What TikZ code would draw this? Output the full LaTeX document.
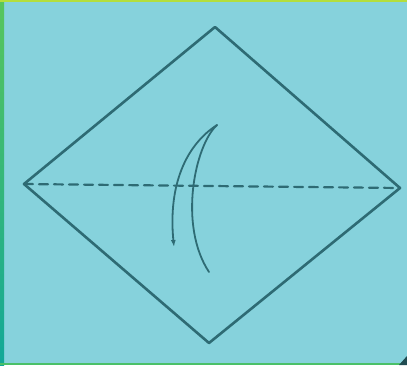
\documentclass[tikz,border=0pt]{standalone}
\usetikzlibrary{arrows.meta}
\definecolor{papel}{HTML}{86D2DC}
\definecolor{tinta}{HTML}{2E6B74}
\definecolor{verde}{HTML}{58C65C}
\definecolor{teal}{HTML}{12A898}
\definecolor{lima}{HTML}{B4DE3C}
\begin{document}
\begin{tikzpicture}[x=1pt,y=-1pt,
          >={Latex[length=7pt,width=5pt]},line cap=round,line join=round,
          borde/.style={tinta,line width=2.6pt},
          pliegue/.style={tinta,line width=2.2pt,dash pattern=on 9pt off 6pt},
          flecha/.style={tinta,line width=1.8pt}]
        % fondo y marco
        \fill[papel] (0,0) rectangle (407,365);
        \shade[top color=verde,bottom color=teal] (0,0) rectangle (4,365);
        \fill[lima] (0,0) rectangle (407,2);
        \fill[verde!80!teal] (0,363) rectangle (407,365);
        \fill[tinta!70!black] (407,356) -- (407,365) -- (399,365) -- cycle;
        \useasboundingbox (0,0) rectangle (407,365);
        % vertices del cuadrado
        \coordinate (arriba) at (215,27);
        \coordinate (izq) at (24,184);
        \coordinate (der) at (400,188);
        \coordinate (abajo) at (209,343);
        \draw[borde] (arriba) -- (der) -- (abajo) -- (izq) -- cycle;
        \draw[pliegue] (izq) -- (der);
        % flecha de doblez
        \coordinate (punta) at (217,125);
        \coordinate (fin) at (209,272);
        \coordinate (cabeza) at (174,247);
        \draw[flecha,->] (punta) .. controls (186,145) and (168,185) .. (cabeza);
        \draw[flecha] (punta) .. controls (195,145) and (178,225) .. (fin);
      \end{tikzpicture}
\end{document}
